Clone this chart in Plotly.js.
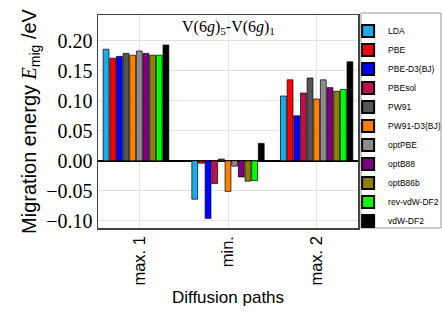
<!DOCTYPE html>
<html>
<head>
<meta charset="utf-8">
<script src="https://cdn.plot.ly/plotly-3.0.1.min.js"></script>
<style>html,body{margin:0;padding:0;background:#fff;}#chart{width:442px;height:325px;}</style>
</head>
<body>
<div id="chart"></div>
<script>
const categories = ['max. 1', 'min.', 'max. 2'];
const seriesNames = ['LDA', 'PBE', 'PBE-D3(BJ)', 'PBEsol', 'PW91', 'PW91-D3(BJ)', 'optPBE', 'optB88', 'optB86b', 'rev-vdW-DF2', 'vdW-DF2'];
const seriesColors = ['#1aace6', '#ff0000', '#0000ff', '#c0104a', '#555555', '#ff7f00', '#8c8c8c', '#7f007f', '#8c8000', '#00ff00', '#000000'];
const LDA        = [0.186, -0.064, 0.108];
const PBE        = [0.171, -0.004, 0.135];
const PBE_D3BJ   = [0.174, -0.096, 0.075];
const PBEsol     = [null,  -0.038, 0.113];
const PW91       = [0.179,  0.003, 0.138];
const PW91_D3BJ  = [0.176, -0.051, 0.103];
const optPBE     = [0.183, -0.009, 0.135];
const optB88     = [0.179, -0.027, 0.122];
const optB86b    = [0.176, -0.034, 0.116];
const revvdWDF2  = [0.176, -0.033, 0.119];
const vdWDF2     = [0.193,  0.029, 0.165];
const values = [LDA, PBE, PBE_D3BJ, PBEsol, PW91, PW91_D3BJ, optPBE, optB88, optB86b, revvdWDF2, vdWDF2];

const slot = 0.075;
const nSlots = seriesNames.length;
const xs = values.map(() => []);
const ys = values.map(() => []);
categories.forEach((c, gi) => {
  let k = 0;
  values.forEach((v, si) => {
    if (v[gi] !== null) {
      xs[si].push(gi + (k - (nSlots - 1) / 2) * slot);
      ys[si].push(v[gi]);
      k++;
    }
  });
});

const traces = seriesNames.map((name, si) => ({
  type: 'bar',
  name: name,
  x: xs[si],
  y: ys[si],
  width: 0.066,
  marker: {color: seriesColors[si], line: {color: '#000', width: 0.7}}
}));

const layout = {
  width: 442, height: 325,
  margin: {l: 98, r: 84, t: 15, b: 97, autoexpand: false},
  paper_bgcolor: '#fff', plot_bgcolor: '#fff',
  barmode: 'overlay',
  showlegend: true,
  legend: {
    x: 0.962, y: 0.993, xanchor: 'left', yanchor: 'top',
    borderwidth: 0, bgcolor: 'rgba(0,0,0,0)',
    font: {family: 'Liberation Sans, Arial, sans-serif', size: 8.5, color: '#000'},
    tracegroupgap: 0, itemwidth: 30, itemsizing: 'constant',
    maxheight: 320
  },
  shapes: [{
    type: 'rect', xref: 'paper', yref: 'paper',
    x0: 1.0115, x1: 1.319, y0: 0.0, y1: 1.0094,
    line: {color: '#999', width: 1}, fillcolor: 'rgba(0,0,0,0)', layer: 'below'
  }],
  xaxis: {
    range: [-0.466, 2.466],
    tickmode: 'array', tickvals: [0, 1, 2], ticktext: categories,
    tickangle: -90,
    tickfont: {family: 'Liberation Sans, Arial, sans-serif', size: 16.5, color: '#000'},
    showgrid: true, gridcolor: '#e3e3e3', gridwidth: 1,
    showline: true, mirror: true, linecolor: '#444', linewidth: 1.5,
    zeroline: false, ticks: '',
    title: {text: 'Diffusion paths', font: {family: 'Liberation Sans, Arial, sans-serif', size: 17, color: '#000'}, standoff: 6}
  },
  yaxis: {
    range: [-0.112, 0.243],
    tickmode: 'array',
    tickvals: [-0.10, -0.05, 0.00, 0.05, 0.10, 0.15, 0.20],
    tickformat: '.2f',
    tickfont: {family: 'Liberation Serif, Times New Roman, serif', size: 20, color: '#000'},
    showgrid: true, gridcolor: '#e3e3e3', gridwidth: 1,
    showline: true, mirror: true, linecolor: '#444', linewidth: 1.5,
    zeroline: true, zerolinecolor: '#000', zerolinewidth: 1.5,
    ticks: '',
    title: {text: 'Migration energy <span style="font-family:Liberation Serif"><i>E</i></span><sub>mig</sub> /eV', font: {family: 'Liberation Sans, Arial, sans-serif', size: 20, color: '#000'}, standoff: 4}
  },
  annotations: [{
    text: 'V(6<i>g</i>)<sub>5</sub>-V(6<i>g</i>)<sub>1</sub>',
    xref: 'paper', yref: 'paper', x: 0.5, y: 0.995, xanchor: 'center', yanchor: 'top',
    showarrow: false,
    font: {family: 'Liberation Serif, Times New Roman, serif', size: 16, color: '#000'}
  }]
};

Plotly.newPlot('chart', traces, layout, {displayModeBar: false, staticPlot: true});
</script>
</body>
</html>
